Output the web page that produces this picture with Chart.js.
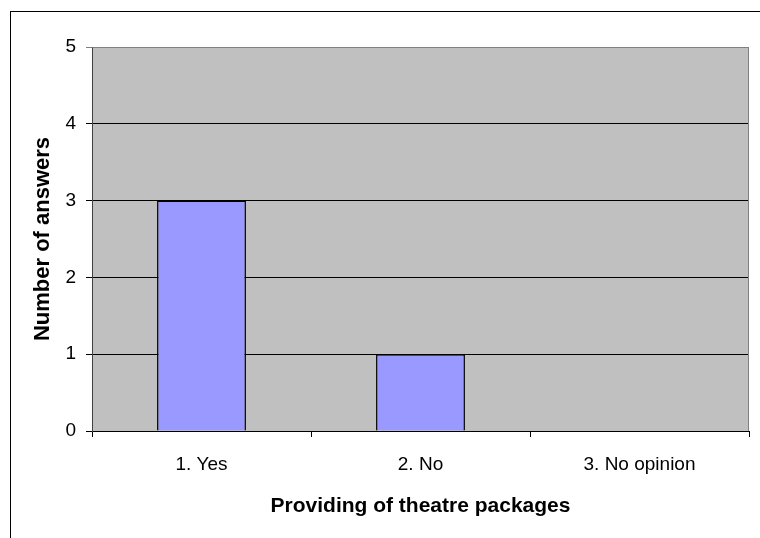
<!DOCTYPE html>
<html>
<head>
<meta charset="utf-8">
<script src="https://cdn.jsdelivr.net/npm/chart.js@4/dist/chart.umd.min.js"></script>
<style>
  html, body { margin: 0; padding: 0; background: #ffffff; }
  #wrap { width: 760px; height: 538px; }
</style>
</head>
<body>
<div id="wrap"><canvas id="c" width="760" height="538"></canvas></div>
<script>
// Survey answers: theatre packages
const categories = ['1. Yes', '2. No', '3. No opinion'];
const answers = [3, 1, 0];
const yTicks = [0, 1, 2, 3, 4, 5];

const FONT = "'Liberation Sans', Arial, sans-serif";

// Frame around the whole chart plus grey plot background
const framePlugin = {
  id: 'frame',
  beforeDraw(chart) {
    const { ctx, chartArea: a } = chart;
    ctx.save();
    ctx.fillStyle = '#ffffff';
    ctx.fillRect(0, 0, chart.width, chart.height);
    ctx.strokeStyle = '#000000';
    ctx.lineWidth = 1;
    ctx.strokeRect(10.5, 11.5, 900, 700);
    ctx.fillStyle = '#C0C0C0';
    ctx.fillRect(a.left, a.top, a.right - a.left, a.bottom - a.top);
    ctx.restore();
  },
  afterDatasetsDraw(chart) {
    const { ctx, chartArea: a } = chart;
    ctx.save();
    ctx.strokeStyle = '#808080';
    ctx.lineWidth = 1;
    ctx.beginPath();
    ctx.moveTo(a.left + 0.5, a.top + 0.5);
    ctx.lineTo(a.right - 0.5, a.top + 0.5);
    ctx.lineTo(a.right - 0.5, a.bottom);
    ctx.stroke();
    ctx.restore();
  }
};

new Chart(document.getElementById('c'), {
  type: 'bar',
  data: {
    labels: categories,
    datasets: [{
      data: answers,
      backgroundColor: '#9999FF',
      borderColor: '#000000',
      borderWidth: (ctx) => (ctx.raw === 0 ? 0 : 1.5),
      borderSkipped: 'bottom',
      barPercentage: 0.406,
      categoryPercentage: 1.0
    }]
  },
  options: {
    responsive: false,
    animation: false,
    events: [],
    layout: { padding: { left: 10, top: 47, right: 11, bottom: 17 } },
    plugins: { legend: { display: false }, tooltip: { enabled: false } },
    scales: {
      x: {
        afterFit(scale) { scale.height = 90; },
        grid: {
          drawOnChartArea: false,
          drawTicks: true,
          tickLength: 6,
          color: '#000000',
          offset: true
        },
        border: { color: '#000000', width: 1 },
        ticks: {
          color: '#000000',
          padding: 16,
          font: { family: FONT, size: 19 }
        },
        title: {
          display: true,
          text: 'Providing of theatre packages',
          color: '#000000',
          padding: { top: 0, bottom: 2 },
          font: { family: FONT, size: 21, weight: 'bold' }
        }
      },
      y: {
        min: 0,
        max: 5,
        afterFit(scale) { scale.width = 82; },
        afterBuildTicks(scale) { scale.ticks = yTicks.map(v => ({ value: v })); },
        grid: {
          drawTicks: true,
          tickLength: 6,
          color: (ctx) => (ctx.tick && ctx.tick.value === 5 ? '#808080' : '#000000')
        },
        border: { color: '#404040', width: 1 },
        ticks: {
          color: '#000000',
          padding: 10,
          font: { family: FONT, size: 19 }
        },
        title: {
          display: true,
          text: 'Number of answers',
          color: '#000000',
          padding: { top: 20, bottom: 0 },
          font: { family: FONT, size: 22, weight: 'bold' }
        }
      }
    }
  },
  plugins: [framePlugin]
});
</script>
</body>
</html>
